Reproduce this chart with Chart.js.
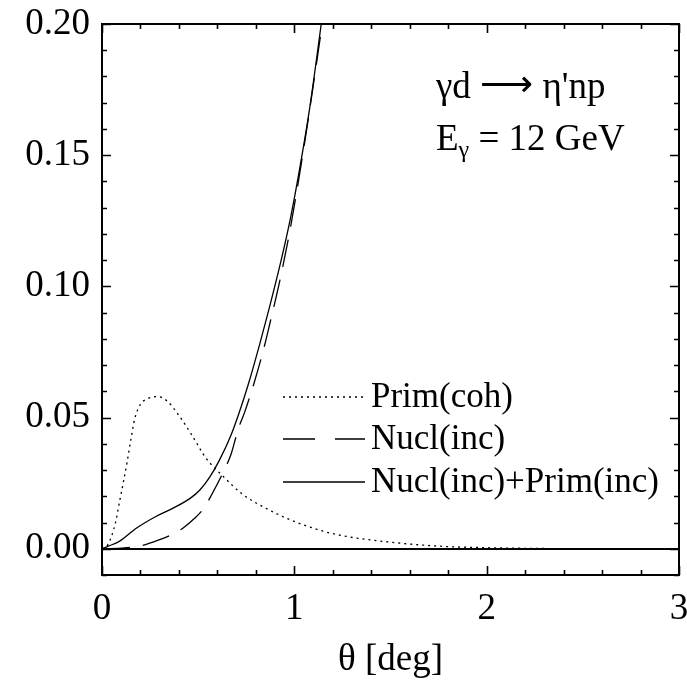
<!DOCTYPE html>
<html>
<head>
<meta charset="utf-8">
<script src="https://cdn.jsdelivr.net/npm/chart.js@4"></script>
<style>
html,body{margin:0;padding:0;background:#fff;}
#wrap{width:687px;height:694px;position:relative;}
</style>
</head>
<body>
<div id="wrap"><canvas id="c" width="687" height="694"></canvas></div>
<script>
// ---- data ----
const thetaCoh = [0, 0.03, 0.07, 0.09, 0.11, 0.13, 0.15, 0.17, 0.2, 0.24, 0.29, 0.34, 0.4, 0.47, 0.54, 0.63, 0.73, 0.85, 0.98, 1.15, 1.27, 1.5, 1.75, 2.0, 2.3, 2.6, 3.0];
const primCoh  = [0, 0.0015, 0.0099, 0.0175, 0.025, 0.0328, 0.0415, 0.0495, 0.055, 0.0573, 0.0580, 0.0562, 0.0508, 0.043, 0.0346, 0.0276, 0.0208, 0.0155, 0.011, 0.0067, 0.0047, 0.0025, 0.001, 0.0004, 0.0001, 0.00003, 0];

const thetaNucl = [0, 0.1, 0.2, 0.3, 0.36, 0.42, 0.48, 0.53, 0.57, 0.64, 0.67, 0.71, 0.74, 0.79, 0.84, 0.87, 0.93, 0.98, 1.04, 1.08, 1.145];
const nuclInc   = [0, 0.0002, 0.0011, 0.0035, 0.0053, 0.0078, 0.0115, 0.0155, 0.0206, 0.0307, 0.0358, 0.046, 0.0517, 0.0630, 0.0760, 0.0850, 0.104, 0.1225, 0.1485, 0.1675, 0.20];

const thetaSum = [0, 0.03, 0.09, 0.18, 0.28, 0.37, 0.46, 0.51, 0.56, 0.61, 0.67, 0.71, 0.76, 0.82, 0.87, 0.93, 0.98, 1.04, 1.08, 1.14];
const nuclPrimInc = [0, 0.0009, 0.0028, 0.0079, 0.0123, 0.0155, 0.0193, 0.0225, 0.0273, 0.0337, 0.0432, 0.0512, 0.0625, 0.078, 0.0918, 0.1095, 0.126, 0.150, 0.168, 0.20];

const xTicks = [0, 1, 2, 3];
const yTicks = [0.00, 0.05, 0.10, 0.15, 0.20];
const seriesLabels = ['Prim(coh)', 'Nucl(inc)', 'Nucl(inc)+Prim(inc)'];

const FONT = '"Liberation Serif", "Times New Roman", serif';
const pts = (xs, ys) => xs.map((x, i) => ({x: x, y: ys[i]}));

const framePlugin = {
  id: 'frame',
  afterDraw(chart) {
    const ctx = chart.ctx, a = chart.chartArea;
    const xs = chart.scales.x, ys = chart.scales.y;
    ctx.save();
    ctx.strokeStyle = '#000';
    ctx.lineWidth = 2;
    ctx.strokeRect(a.left, a.top, a.right - a.left, a.bottom - a.top);
    ctx.lineWidth = 1.6;
    ctx.beginPath();
    for (let i = 0; i <= 15; i++) {
      const v = i * 0.2;
      const px = Math.round(xs.getPixelForValue(v)) + 0.5;
      const len = (i % 5 === 0) ? 9 : 5;
      ctx.moveTo(px, a.bottom); ctx.lineTo(px, a.bottom - len);
      ctx.moveTo(px, a.top); ctx.lineTo(px, a.top + len);
    }
    for (let i = -1; i <= 20; i++) {
      const v = i * 0.01;
      const py = Math.round(ys.getPixelForValue(v)) + 0.5;
      const len = (i % 5 === 0) ? 9 : 5;
      ctx.moveTo(a.left, py); ctx.lineTo(a.left + len, py);
      ctx.moveTo(a.right, py); ctx.lineTo(a.right - len, py);
    }
    ctx.stroke();

    // legend
    const rows = [
      {y: 397, dash: [2, 4], label: seriesLabels[0]},
      {y: 439, dash: [32, 20], label: seriesLabels[1]},
      {y: 482, dash: [], label: seriesLabels[2]}
    ];
    ctx.fillStyle = '#000';
    ctx.font = '35px ' + FONT;
    ctx.textBaseline = 'middle';
    ctx.textAlign = 'left';
    rows.forEach(r => {
      ctx.beginPath();
      ctx.setLineDash(r.dash);
      ctx.lineWidth = 1.3;
      ctx.moveTo(283, r.y); ctx.lineTo(365, r.y);
      ctx.stroke();
      ctx.setLineDash([]);
      ctx.fillText(r.label, 371, r.y + 1);
    });

    // annotation
    ctx.textBaseline = 'alphabetic';
    let x = 436;
    ctx.font = '37px ' + FONT;
    ctx.fillText('γd ', x, 98);
    x += ctx.measureText('γd ').width;
    ctx.font = '37px "DejaVu Sans", sans-serif';
    ctx.fillText('⟶', x, 96);
    x += ctx.measureText('⟶').width;
    ctx.font = '37px ' + FONT;
    ctx.fillText(' η\'np', x, 98);

    x = 436;
    ctx.fillText('E', x, 150);
    x += ctx.measureText('E').width;
    ctx.font = '24px ' + FONT;
    ctx.fillText('γ', x, 157);
    x += ctx.measureText('γ').width;
    ctx.font = '37px ' + FONT;
    ctx.fillText(' = 12 GeV', x, 150);
    ctx.restore();
  }
};

new Chart(document.getElementById('c'), {
  type: 'line',
  data: {
    datasets: [
      {label: seriesLabels[0], data: pts(thetaCoh, primCoh), borderColor: '#000', borderWidth: 1.3, borderDash: [2, 4], pointRadius: 0, cubicInterpolationMode: 'monotone', fill: false},
      {label: seriesLabels[1], data: pts(thetaNucl, nuclInc), borderColor: '#000', borderWidth: 1.3, borderDash: [28, 13], pointRadius: 0, cubicInterpolationMode: 'monotone', fill: false},
      {label: seriesLabels[2], data: pts(thetaSum, nuclPrimInc), borderColor: '#000', borderWidth: 1.3, pointRadius: 0, cubicInterpolationMode: 'monotone', fill: false}
    ]
  },
  options: {
    responsive: false,
    animation: false,
    events: [],
    layout: {padding: {top: 24, right: 8, left: 0, bottom: 0}},
    plugins: {legend: {display: false}, tooltip: {enabled: false}},
    scales: {
      x: {
        type: 'linear', min: 0, max: 3,
        afterBuildTicks: s => { s.ticks = xTicks.map(v => ({value: v})); },
        afterFit: s => { s.height = 119; s.paddingLeft = 0; s.paddingRight = 0; },
        grid: {display: false, drawTicks: false},
        border: {display: false},
        ticks: {color: '#000', font: {family: FONT, size: 37}, padding: 12, maxRotation: 0, callback: v => String(v)},
        title: {display: true, text: 'θ [deg]', color: '#000', font: {family: FONT, size: 37}, padding: {top: 0, bottom: 12}}
      },
      y: {
        type: 'linear', min: -0.01, max: 0.20,
        afterBuildTicks: s => { s.ticks = yTicks.map(v => ({value: v})); },
        afterFit: s => { s.width = 102; s.paddingTop = 0; s.paddingBottom = 0; },
        grid: {
          drawTicks: false,
          color: c => (c.tick && Math.abs(c.tick.value) < 1e-9) ? '#000' : 'rgba(0,0,0,0)',
          lineWidth: c => (c.tick && Math.abs(c.tick.value) < 1e-9) ? 2 : 0
        },
        border: {display: false},
        ticks: {color: '#000', font: {family: FONT, size: 37}, padding: 12, callback: v => v.toFixed(2)}
      }
    }
  },
  plugins: [framePlugin]
});
</script>
</body>
</html>
